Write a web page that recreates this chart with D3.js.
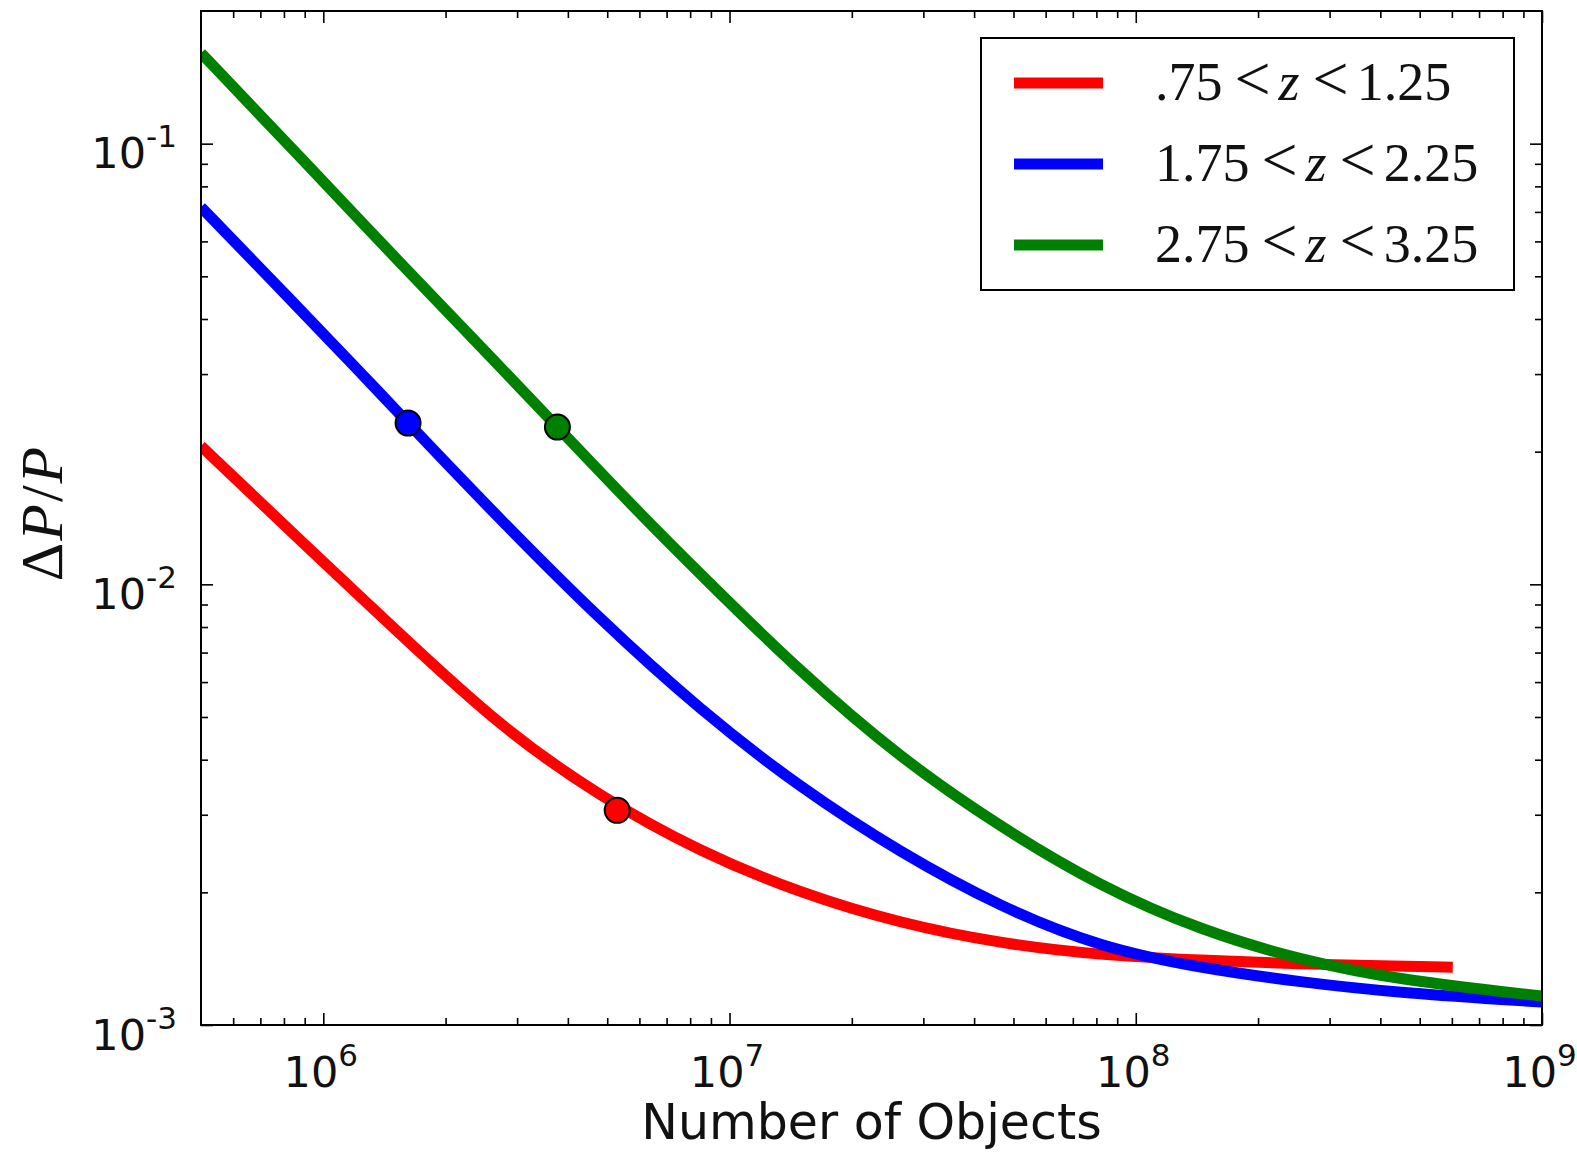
<!DOCTYPE html>
<html>
<head>
<meta charset="utf-8">
<script src="https://cdn.jsdelivr.net/npm/d3@7"></script>
<style>
  body { margin: 0; background: #fff; }
  .axis path { display: none; }
  .axis line { stroke: #000; stroke-width: 1.6; }
  .tick-label { font-family: 'DejaVu Sans', sans-serif; fill: #111; }
  .math { font-family: 'Liberation Serif', serif; fill: #111; }
</style>
</head>
<body>
<div id="chart"></div>
<script>
// values (N = number of objects, dp = ΔP/P)
const redN = [5.0e5, 8.77e5, 1.546e6, 2.73e6, 4.81e6, 8.47e6, 1.494e7, 2.634e7, 4.65e7, 8.19e7, 1.445e8, 2.55e8, 4.49e8, 6.03e8];
const redDP = [0.0206, 0.01259, 0.00771, 0.00474, 0.00329, 0.00247, 0.00199, 0.00170, 0.00153, 0.00144, 0.001403, 0.001374, 0.001359, 0.001352];

const blueN = [5.0e5, 8.28e5, 1.233e6, 1.617e6, 2.73e6, 4.81e6, 8.47e6, 1.494e7, 2.634e7, 4.65e7, 8.19e7, 1.445e8, 2.55e8, 4.49e8, 1.0e9];
const blueDP = [0.0718, 0.0444, 0.0303, 0.02322, 0.0140, 0.0083, 0.00518, 0.00345, 0.00246, 0.00185, 0.00150, 0.001346, 0.001251, 0.001181, 0.001127];

const greenN = [5.0e5, 8.77e5, 1.546e6, 2.73e6, 3.77e6, 5.80e6, 8.47e6, 1.494e7, 2.634e7, 4.65e7, 8.19e7, 1.445e8, 2.55e8, 4.49e8, 1.0e9];
const greenDP = [0.1606, 0.0933, 0.0536, 0.0311, 0.02274, 0.01497, 0.01055, 0.00632, 0.00403, 0.00281, 0.00206, 0.00164, 0.001403, 0.001264, 0.001163];

// highlighted points
const markerN = [5.29e6, 1.617e6, 3.77e6];
const markerDP = [0.00307, 0.02322, 0.02274];

const seriesColors = ['#ff0000', '#0000ff', '#008000'];
const legendLow = ['.75', '1.75', '2.75'];
const legendHigh = ['1.25', '2.25', '3.25'];

const xMajor = [1e6, 1e7, 1e8, 1e9];
const xExp = ['6', '7', '8', '9'];
const yMajor = [1e-3, 1e-2, 1e-1];
const yExp = ['-3', '-2', '-1'];

const width = 1577;
const height = 1152;
const plot = { left: 201, right: 1542, top: 11, bottom: 1025 };

const svg = d3.select('#chart').append('svg')
  .attr('width', width)
  .attr('height', height);

const xScale = d3.scaleLog().domain([5e5, 1e9]).range([plot.left, plot.right]);
const yScale = d3.scaleLog().domain([1e-3, 0.2]).range([plot.bottom, plot.top]);

function minorTicks(lo, hi) {
  const out = [];
  for (let e = Math.floor(Math.log10(lo)); e <= Math.ceil(Math.log10(hi)); e++) {
    for (let m = 2; m <= 9; m++) {
      const v = m * Math.pow(10, e);
      if (v > lo * 1.0001 && v < hi * 0.9999) out.push(v);
    }
  }
  return out;
}
const xMinor = minorTicks(5e5, 1e9);
const yMinor = minorTicks(1e-3, 0.2);

svg.append('clipPath').attr('id', 'clip')
  .append('rect')
  .attr('x', plot.left).attr('y', plot.top)
  .attr('width', plot.right - plot.left)
  .attr('height', plot.bottom - plot.top);

// axes, ticks inward on all four sides
function addAxis(axisFn, scale, values, size, transform) {
  return svg.append('g')
    .attr('class', 'axis')
    .attr('transform', transform)
    .call(axisFn(scale).tickValues(values).tickSizeInner(-size).tickSizeOuter(0).tickFormat(''));
}
const xBottom = addAxis(d3.axisBottom, xScale, xMajor, 12, `translate(0,${plot.bottom})`);
addAxis(d3.axisBottom, xScale, xMinor, 7, `translate(0,${plot.bottom})`);
addAxis(d3.axisTop, xScale, xMajor, 12, `translate(0,${plot.top})`);
addAxis(d3.axisTop, xScale, xMinor, 7, `translate(0,${plot.top})`);
const yLeft = addAxis(d3.axisLeft, yScale, yMajor, 12, `translate(${plot.left},0)`);
addAxis(d3.axisLeft, yScale, yMinor, 7, `translate(${plot.left},0)`);
addAxis(d3.axisRight, yScale, yMajor, 12, `translate(${plot.right},0)`);
addAxis(d3.axisRight, yScale, yMinor, 7, `translate(${plot.right},0)`);

// power-of-ten labels
function powerLabel(sel, exps, x, y, anchor) {
  const t = sel.append('text')
    .attr('class', 'tick-label')
    .attr('x', x)
    .attr('y', y)
    .attr('text-anchor', anchor)
    .attr('font-size', 43);
  t.append('tspan').text('10');
  t.append('tspan')
    .attr('dy', -21)
    .attr('font-size', 31)
    .text((d, i) => exps[i]);
}
xBottom.selectAll('.tick').call(powerLabel, xExp, -3, 62, 'middle');
yLeft.selectAll('.tick').call(powerLabel, yExp, -24, 24, 'end');

// curves
const line = d3.line()
  .x(d => xScale(d[0]))
  .y(d => yScale(d[1]))
  .curve(d3.curveBasis);

const seriesData = [
  d3.zip(redN, redDP),
  d3.zip(blueN, blueDP),
  d3.zip(greenN, greenDP),
];

const curves = svg.append('g').attr('clip-path', 'url(#clip)');
curves.selectAll('path')
  .data(seriesData)
  .enter().append('path')
  .attr('d', line)
  .attr('fill', 'none')
  .attr('stroke', (d, i) => seriesColors[i])
  .attr('stroke-width', 11);

curves.selectAll('circle')
  .data(d3.zip(markerN, markerDP))
  .enter().append('circle')
  .attr('cx', d => xScale(d[0]))
  .attr('cy', d => yScale(d[1]))
  .attr('r', 12.5)
  .attr('fill', (d, i) => seriesColors[i])
  .attr('stroke', '#000')
  .attr('stroke-width', 2);

// frame
svg.append('rect')
  .attr('x', plot.left).attr('y', plot.top)
  .attr('width', plot.right - plot.left)
  .attr('height', plot.bottom - plot.top)
  .attr('fill', 'none')
  .attr('stroke', '#000')
  .attr('stroke-width', 2);

// legend
const legend = svg.append('g');
legend.append('rect')
  .attr('x', 981).attr('y', 38)
  .attr('width', 533).attr('height', 252)
  .attr('fill', '#fff')
  .attr('stroke', '#000')
  .attr('stroke-width', 2);

const item = legend.selectAll('.item')
  .data(seriesColors)
  .enter().append('g')
  .attr('class', 'item')
  .attr('transform', (d, i) => `translate(0,${83 + i * 81})`);

item.append('line')
  .attr('x1', 1014).attr('x2', 1103)
  .attr('stroke', d => d)
  .attr('stroke-width', 11);

const lt = item.append('text')
  .attr('class', 'math')
  .attr('x', 1155)
  .attr('y', 17)
  .attr('font-size', 54);
lt.append('tspan').text((d, i) => legendLow[i]);
lt.append('tspan').attr('dx', 12).attr('font-size', 64).text('<');
lt.append('tspan').attr('dx', 8).attr('font-style', 'italic').text('z');
lt.append('tspan').attr('dx', 13).attr('font-size', 64).text('<');
lt.append('tspan').attr('dx', 8).text((d, i) => legendHigh[i]);

// axis titles
svg.append('text')
  .attr('class', 'tick-label')
  .attr('x', (plot.left + plot.right) / 2)
  .attr('y', 1139)
  .attr('text-anchor', 'middle')
  .attr('font-size', 49)
  .text('Number of Objects');

const yl = svg.append('text')
  .attr('class', 'math')
  .attr('transform', 'translate(62,513) rotate(-90)')
  .attr('text-anchor', 'middle')
  .attr('font-size', 60)
  .attr('letter-spacing', 2);
yl.append('tspan').text('Δ');
yl.append('tspan').attr('font-style', 'italic').text('P');
yl.append('tspan').text('/');
yl.append('tspan').attr('font-style', 'italic').text('P');
</script>
</body>
</html>
